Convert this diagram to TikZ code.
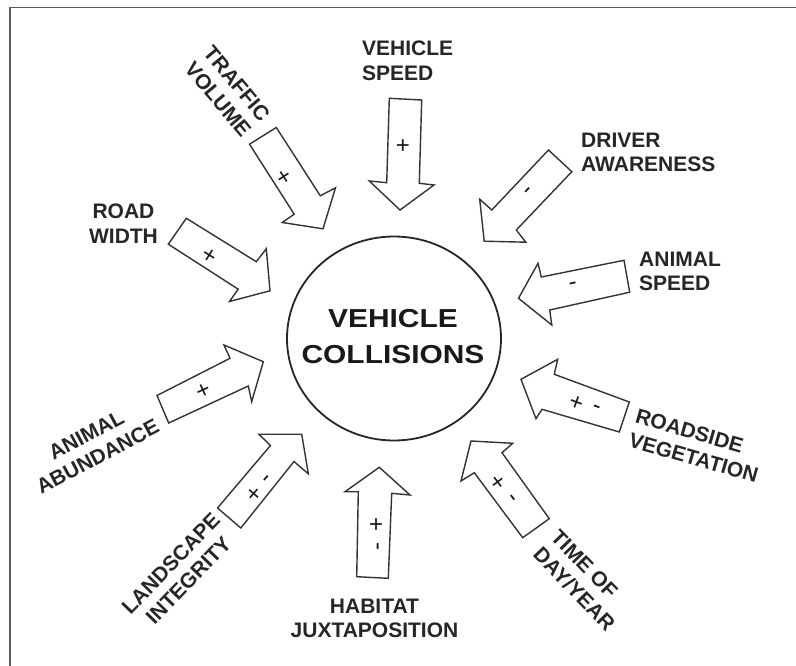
\documentclass[tikz,border=0pt]{standalone}
\usepackage{fontspec}
\setmainfont{Liberation Sans}
\begin{document}
\begin{tikzpicture}[x=1pt,y=-1pt,
  frame/.style={draw=black!65, line width=1.5pt},
  blockarrow/.style={draw=black!80, line width=1.4pt, fill=white, line join=miter},
  factor/.style={inner sep=0pt, text=black!85, font=\fontsize{21}{24.5}\selectfont\bfseries},
  sign/.style={inner sep=0pt, text=black!90, font=\fontsize{24}{24}\selectfont},
  hubtext/.style={inner sep=0pt, text=black!90, align=center, xscale=1.15,
    font=\fontsize{26}{36}\selectfont\bfseries}]
\useasboundingbox (0,0) rectangle (796,666);

% page frame (top and left edges)
\draw[frame] (10,666) -- (10,7.5) -- (796,7.5);

% central outcome
\draw[draw=black!85, line width=1.8pt] (394,338.5) ellipse (107pt and 102pt);
\node[hubtext] (hub) at (393,337) {VEHICLE\\COLLISIONS};

% block arrows pointing at the centre
\draw[blockarrow] (389.3,98.3) -- (421.7,100) -- (419.3,183.3) -- (434,185) -- (400,210) -- (369.3,181) -- (386.7,182.7) -- cycle;
\draw[blockarrow] (249.5,144.2) -- (276.3,127.5) -- (320.3,195.8) -- (335.5,187.8) -- (323,228.8) -- (282.2,222.5) -- (294.2,214.2) -- cycle;
\draw[blockarrow] (168.3,244.2) -- (186.3,218.3) -- (256.3,261.7) -- (266.3,248.8) -- (270,290.8) -- (229.5,301.5) -- (238.2,289.2) -- cycle;
\draw[blockarrow] (548.5,150) -- (571.8,171.7) -- (516.3,230) -- (525.8,242.2) -- (484.2,241.2) -- (479.7,199.2) -- (491.8,210) -- cycle;
\draw[blockarrow] (624,260.3) -- (629.7,292.2) -- (549.7,310) -- (551.8,325) -- (518.5,298.3) -- (538,263.3) -- (541.3,277) -- cycle;
\draw[blockarrow] (157,395.5) -- (168.7,423) -- (248.3,386) -- (251.7,401.7) -- (263.3,361.7) -- (224,345) -- (230,358.3) -- cycle;
\draw[blockarrow] (217.5,508) -- (240.8,528) -- (294,461.5) -- (308.3,473.8) -- (301.7,434.2) -- (258.8,434.2) -- (270.5,445.5) -- cycle;
\draw[blockarrow] (356.7,576.7) -- (388.3,578.3) -- (391.7,493.3) -- (410,495) -- (379.3,467.3) -- (345,491.7) -- (358.3,491.7) -- cycle;
\draw[blockarrow] (522.7,537.7) -- (549.3,518.7) -- (502,452.7) -- (512.7,443.3) -- (471,441) -- (461,481) -- (474.3,472.7) -- cycle;
\draw[blockarrow] (629.3,402) -- (619.3,432) -- (542,409.3) -- (536,418.7) -- (521,379.3) -- (557.7,359.3) -- (554.3,374.3) -- cycle;

% effect signs on the arrows
\node[sign] (s-speed) at (403,147) {+};
\node[sign, rotate=33] (s-traffic) at (285,178) {+};
\node[sign, rotate=-32] (s-road) at (209.3,256.7) {+};
\node[sign, rotate=46.5] (s-driver) at (530,191.7) {-};
\node[sign, rotate=11.7] (s-animal) at (573.3,286) {-};
\node[sign, rotate=24.5] (s-abund) at (203.3,391.7) {+};
\node[sign, rotate=49] (s-land-p) at (255,495) {+};
\node[sign, rotate=49] (s-land-m) at (268.3,480) {-};
\node[sign, rotate=-90] (s-hab-p) at (375,525) {+};
\node[sign, rotate=-90] (s-hab-m) at (375,546) {-};
\node[sign, rotate=-53] (s-time-p) at (497.7,482.7) {+};
\node[sign, rotate=-53] (s-time-m) at (511,499.3) {-};
\node[sign, rotate=-20] (s-veg-p) at (576,403.3) {+};
\node[sign, rotate=-20] (s-veg-m) at (596,409.3) {-};

% factor labels
\node[factor, anchor=west, align=left] (l-speed) at (362,61) {VEHICLE\\SPEED};
\node[factor, align=center, rotate=-50] (l-traffic) at (227.5,91.5) {TRAFFIC\\VOLUME};
\node[factor, align=center] (l-road) at (123.5,223.5) {ROAD\\WIDTH};
\node[factor, anchor=west, align=left] (l-driver) at (581,152.5) {DRIVER\\AWARENESS};
\node[factor, anchor=west, align=left] (l-animal) at (639,271.5) {ANIMAL\\SPEED};
\node[factor, align=center, rotate=28] (l-abund) at (92,446) {ANIMAL\\ABUNDANCE};
\node[factor, align=center, rotate=46] (l-land) at (179.6,572) {LANDSCAPE\\INTEGRITY};
\node[factor, align=center] (l-hab) at (374.5,618.5) {HABITAT\\JUXTAPOSITION};
\node[factor, anchor=west, align=left, rotate=-46] (l-time) at (545.9,542.1) {TIME OF\\DAY/YEAR};
\node[factor, anchor=west, align=left, rotate=-16] (l-veg) at (632.7,427.5) {ROADSIDE\\VEGETATION};
\end{tikzpicture}
\end{document}
